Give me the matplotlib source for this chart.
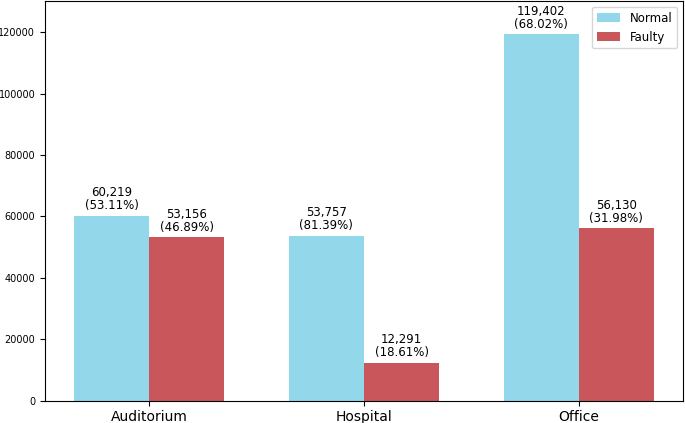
import matplotlib
matplotlib.use("Agg")
import matplotlib.pyplot as plt
import numpy as np

categories = ["Auditorium", "Hospital", "Office"]
normal = [60219, 53757, 119402]
faulty = [53156, 12291, 56130]

normal_color = "#93d7ea"
faulty_color = "#c9565a"

fig, ax = plt.subplots(figsize=(6.85, 4.23), dpi=100)
fig.subplots_adjust(left=45 / 685, right=683 / 685, top=1 - 1 / 423, bottom=1 - 400.7 / 423)

x = np.arange(len(categories))
width = 0.35

bars_n = ax.bar(x - width / 2, normal, width, color=normal_color, label="Normal")
bars_f = ax.bar(x + width / 2, faulty, width, color=faulty_color, label="Faulty")

# value + share within each category
for i in range(len(categories)):
    total = normal[i] + faulty[i]
    for bar, val in ((bars_n[i], normal[i]), (bars_f[i], faulty[i])):
        ax.annotate(f"{val:,}\n({val / total * 100:.2f}%)",
                    xy=(bar.get_x() + bar.get_width() / 2, val),
                    xytext=(0, 2.5), textcoords="offset points",
                    ha="center", va="bottom", fontsize=8.5, linespacing=1.0)

ax.set_xticks(x)
ax.set_xticklabels(categories, fontsize=10)
ax.tick_params(axis="y", labelsize=7)
ax.set_ylim(0, max(normal) * 1.09)
ax.legend(loc="upper right", fontsize=8.5)

plt.savefig("out.png", dpi=100)
plt.close()
